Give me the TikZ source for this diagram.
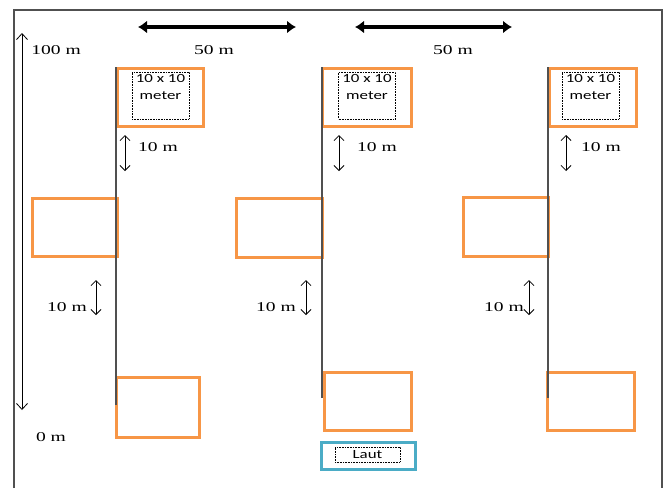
\documentclass[tikz,border=0pt]{standalone}
\usepackage{fontspec}
\setmainfont{Liberation Serif}[FakeStretch=1.45]
\newfontfamily\tagfont{Carlito}[FakeStretch=1.35]
\usetikzlibrary{arrows.meta}
\definecolor{plotorange}{RGB}{247,150,70}
\definecolor{sea}{RGB}{75,172,198}
\definecolor{linegray}{RGB}{80,80,80}
\begin{document}
\begin{tikzpicture}[x=1pt,y=-1pt,
    plot/.style={draw=plotorange,line width=3pt,inner sep=0pt},
    tag/.style={draw,densely dotted,line width=0.6pt,inner sep=1pt,font=\tagfont\fontsize{12.5}{17}\selectfont},
    trans/.style={draw=linegray,line width=1.3pt},
    gap/.style={{Straight Barb[length=5pt,width=10pt]}-{Straight Barb[length=5pt,width=10pt]},line width=0.8pt},
    span/.style={{Latex[length=9pt,width=13pt]}-{Latex[length=9pt,width=13pt]},line width=4pt},
    dist/.style={font=\fontsize{13.5}{15}\selectfont}]
    \useasboundingbox (0,0) rectangle (667,488);
    % frame
    \draw[linegray,line width=1.2pt] (14,488) -- (14,10) -- (662,10) -- (662,488);

    % plots, first transect
    \node[plot,minimum width=86pt,minimum height=58pt] (top1) at (160,97) {};
    \node[plot,minimum width=85pt,minimum height=58pt] (mid1) at (74.5,227) {};
    \node[plot,minimum width=83pt,minimum height=60pt] (bot1) at (157.5,407) {};
    % second transect
    \node[plot,minimum width=89pt,minimum height=58pt] (top2) at (366.5,97) {};
    \node[plot,minimum width=86pt,minimum height=59pt] (mid2) at (279,227.5) {};
    \node[plot,minimum width=87pt,minimum height=58pt] (bot2) at (367.5,401) {};
    % third transect
    \node[plot,minimum width=87pt,minimum height=58pt] (top3) at (592.5,97) {};
    \node[plot,minimum width=85pt,minimum height=59pt] (mid3) at (505.5,226.5) {};
    \node[plot,minimum width=87pt,minimum height=58pt] (bot3) at (590.5,401) {};

    % plot size tags
    \node[tag] (tag1) at (160.5,95.5) {\parbox[c][45pt][t]{55pt}{\centering\vspace*{1.5pt}10 x 10\\ meter}};
    \node[tag] (tag2) at (367,95.5) {\parbox[c][45pt][t]{55pt}{\centering\vspace*{1.5pt}10 x 10\\ meter}};
    \node[tag] (tag3) at (590.5,95.5) {\parbox[c][45pt][t]{55pt}{\centering\vspace*{1.5pt}10 x 10\\ meter}};

    % sea
    \node[draw=sea,line width=3pt,minimum width=94pt,minimum height=27pt,inner sep=0pt] (sea) at (368,455.5) {};
    \node[tag,minimum width=65pt,minimum height=15pt,inner sep=0pt] (laut) at (367.5,454.5) {Laut};

    % transect lines
    \coordinate (lineA top) at (116,67);  \coordinate (lineA end) at (116,405);
    \coordinate (lineB top) at (322,67);  \coordinate (lineB end) at (322,398);
    \coordinate (lineC top) at (548,67);  \coordinate (lineC end) at (548,398);
    \draw[trans] (lineA top) -- (lineA end);
    \draw[trans] (lineB top) -- (lineB end);
    \draw[trans] (lineC top) -- (lineC end);

    % distances between transects
    \coordinate (spanA west) at (138,27); \coordinate (spanA east) at (296,27);
    \coordinate (spanB west) at (355,27); \coordinate (spanB east) at (512,27);
    \draw[span] (spanA west) -- (spanA east);
    \draw[span] (spanB west) -- (spanB east);
    \node[dist] (spanA label) at (214,50) {50 m};
    \node[dist] (spanB label) at (453,50) {50 m};

    % depth from 100 m to 0 m
    \coordinate (depth top) at (22,33); \coordinate (depth end) at (22,410);
    \draw[{Straight Barb[length=6pt,width=11pt]}-{Straight Barb[length=6pt,width=11pt]},line width=0.8pt] (depth top) -- (depth end);
    \node[dist] (depth high) at (56,50) {100 m};
    \node[dist] (depth low) at (51,437) {0 m};

    % gaps between plots
    \coordinate (gapA1 top) at (125,135); \coordinate (gapA1 end) at (125,171);
    \coordinate (gapB1 top) at (339,135); \coordinate (gapB1 end) at (339,171);
    \coordinate (gapC1 top) at (566,135); \coordinate (gapC1 end) at (566,171);
    \coordinate (gapA2 top) at (96,280);  \coordinate (gapA2 end) at (96,315);
    \coordinate (gapB2 top) at (306,280); \coordinate (gapB2 end) at (306,315);
    \coordinate (gapC2 top) at (529,280); \coordinate (gapC2 end) at (529,315);
    \draw[gap] (gapA1 top) -- (gapA1 end);
    \draw[gap] (gapB1 top) -- (gapB1 end);
    \draw[gap] (gapC1 top) -- (gapC1 end);
    \draw[gap] (gapA2 top) -- (gapA2 end);
    \draw[gap] (gapB2 top) -- (gapB2 end);
    \draw[gap] (gapC2 top) -- (gapC2 end);
    \node[dist] (gapA1 label) at (158,147) {10 m};
    \node[dist] (gapB1 label) at (377,147) {10 m};
    \node[dist] (gapC1 label) at (601,147) {10 m};
    \node[dist] (gapA2 label) at (67,307) {10 m};
    \node[dist] (gapB2 label) at (276,307) {10 m};
    \node[dist] (gapC2 label) at (504,307) {10 m};
\end{tikzpicture}
\end{document}
